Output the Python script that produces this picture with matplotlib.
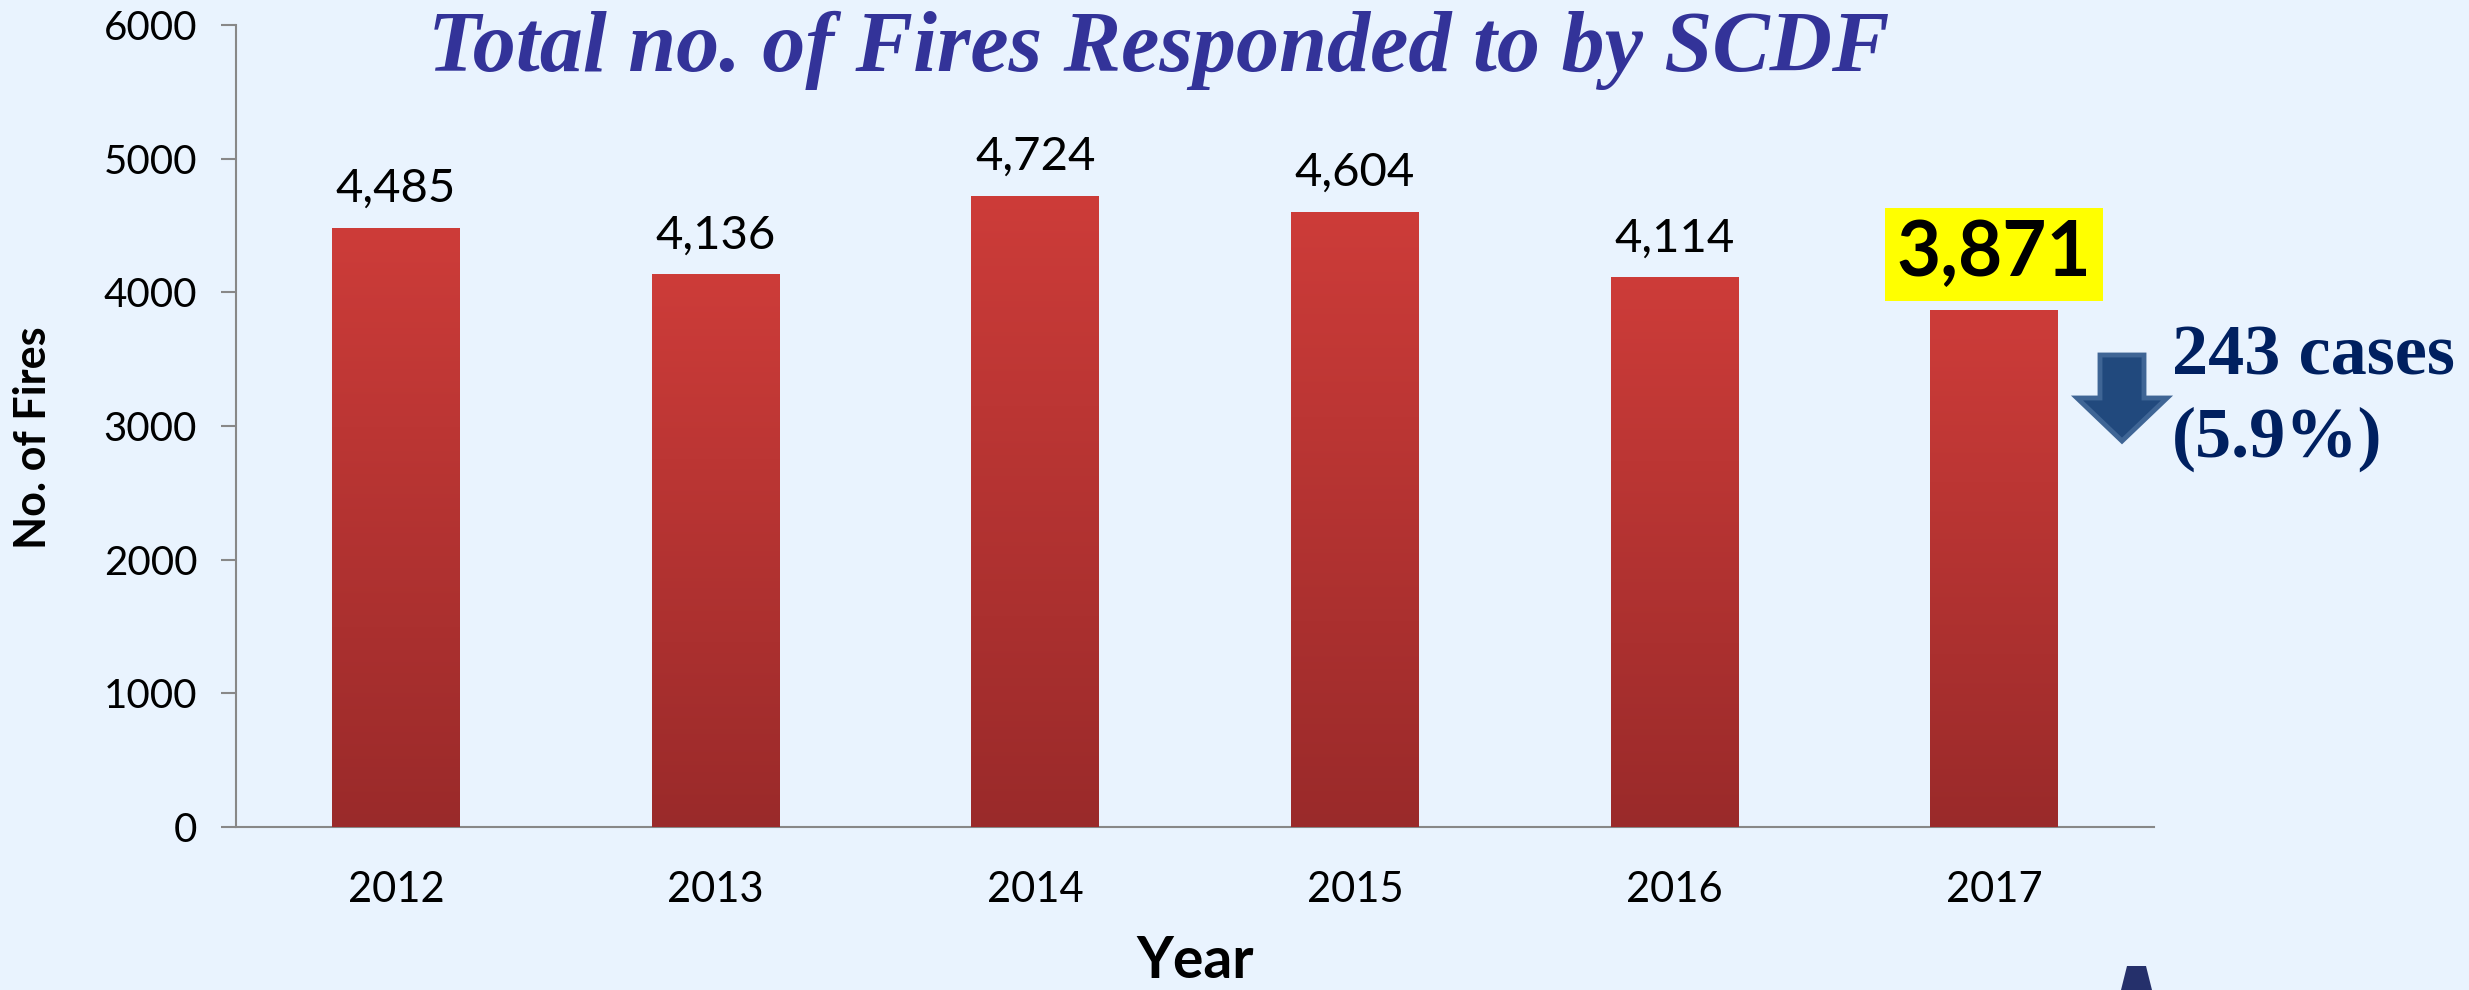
import numpy as np
import matplotlib
matplotlib.use("Agg")
import matplotlib.pyplot as plt
import matplotlib.patches as mpatches
from matplotlib.colors import LinearSegmentedColormap

years = ["2012", "2013", "2014", "2015", "2016", "2017"]
fires = [4485, 4136, 4724, 4604, 4114, 3871]
y_ticks = [0, 1000, 2000, 3000, 4000, 5000, 6000]

title = "Total no. of Fires Responded to by SCDF"
change_cases = "243 cases"
change_pct = "(5.9%)"

bg = "#E9F3FE"
plt.rcParams["font.family"] = ["Lato", "DejaVu Sans"]

fig = plt.figure(figsize=(24.69, 9.9), dpi=100, facecolor=bg)
ax = fig.add_axes([0.0956, 0.1646, 0.7768, 0.8101], facecolor=bg)

x = np.arange(len(years))
bars = ax.bar(x, fires, width=0.4, color="#B83232", zorder=2)

# vertical gradient on each bar, clipped to the bar itself
grad = LinearSegmentedColormap.from_list("redgrad", ["#9A2A2A", "#CD3C39"])
g = np.linspace(0, 1, 256).reshape(-1, 1)
for b in bars:
    x0, y0 = b.get_x(), b.get_y()
    im = ax.imshow(g, cmap=grad, aspect="auto", origin="lower",
                   extent=[x0, x0 + b.get_width(), y0, y0 + b.get_height()], zorder=3)
    im.set_clip_path(b)

ax.set_xlim(-0.5, 5.5)
ax.set_ylim(0, 6000)
ax.set_yticks(y_ticks)
ax.set_xticks(x)
ax.set_xticklabels(years)
ax.tick_params(axis="x", length=0, pad=32, labelsize=30)
ax.tick_params(axis="y", length=11, width=1.5, color="#888888", pad=17, labelsize=29)
for s in ["top", "right"]:
    ax.spines[s].set_visible(False)
for s in ["left", "bottom"]:
    ax.spines[s].set_color("#888888")
    ax.spines[s].set_linewidth(1.5)

# value labels
for i, v in enumerate(fires[:-1]):
    ax.annotate(f"{v:,}", (x[i], v), xytext=(0, 18.5), textcoords="offset points",
                ha="center", va="baseline", fontsize=34)
ax.annotate(f"{fires[-1]:,}", (x[-1], fires[-1]), xytext=(0, 24), textcoords="offset points",
            ha="center", va="baseline", fontsize=55, fontweight="bold",
            bbox=dict(boxstyle="square,pad=0.15", fc="#FFFF00", ec="none"))

fig.text(0.4695, 0.928, title, ha="center", va="baseline", fontsize=62,
         family="Liberation Serif", fontweight="bold", style="italic", color="#333399")

fig.text(0.484, 0.012, "Year", ha="center", va="baseline", fontsize=41, fontweight="bold")
fig.text(0.0135, 0.5576, "No. of Fires", ha="center", va="center", rotation=90,
         fontsize=31, fontweight="bold")

# down arrow next to 2017
arrow = [(2100, 355), (2144, 355), (2144, 398), (2167, 398), (2122, 441),
         (2077, 398), (2100, 398)]
arrow = [(px / 2469, 1 - py / 990) for px, py in arrow]
fig.patches.append(mpatches.Polygon(arrow, closed=True, transform=fig.transFigure,
                                    fc="#21497D", ec="#3F6595", lw=3.5, joinstyle="miter"))
fig.text(0.8797, 0.6222, change_cases, ha="left", va="baseline", fontsize=52,
         family="Liberation Serif", fontweight="bold", color="#002060")
fig.text(0.8797, 0.5384, change_pct, ha="left", va="baseline", fontsize=52,
         family="Liberation Serif", fontweight="bold", color="#002060")

# partial logo at bottom edge
logo = [(2127, 966), (2146, 966), (2152, 990), (2121, 990)]
logo = [(px / 2469, 1 - py / 990) for px, py in logo]
fig.patches.append(mpatches.Polygon(logo, closed=True, transform=fig.transFigure,
                                    fc="#25306B", ec="none"))

fig.savefig("out.png", dpi=100, facecolor=bg)
